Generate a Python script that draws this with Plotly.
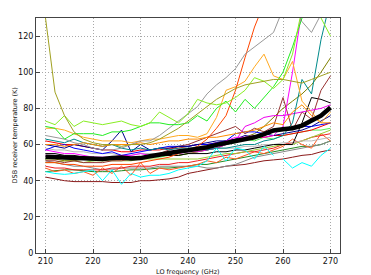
import plotly.graph_objects as go

freq = [210,212,214,216,218,220,222,224,226,228,230,232,234,236,238,240,
        242,244,246,248,250,252,254,256,258,260,262,264,266,268,270]

x_ticks = [210,220,230,240,250,260,270]
y_ticks = [0,20,40,60,80,100,120]

olive1 = [130,89,76,67,63,61,60,60,59,60,60,61,63,66,69,73,77,81,85,88,91,93,94,95,96,96,95,94,96,98,100]
olive2 = [52,52,51,51,52,52,51,52,52,53,53,53,54,54,54,55,56,57,58,60,62,64,66,70,75,80,84,88,93,100,108]
grey1 = [65,64,63,61,60,58,57,57,58,60,62,62,65,69,73,77,81,88,93,97,102,110,114,118,122,135,140,128,122,132,140]
orangered1 = [50,50,49,49,48,48,48,49,49,49,50,51,52,53,55,57,59,63,69,76,90,108,125,138,140,140,140,140,140,140,140]
orange1 = [69,69,68,66,64,63,62,62,62,61,62,63,63,64,65,65,64,66,75,90,92,95,103,110,98,96,106,84,78,72,78]
chartreuse = [73,71,76,70,73,72,71,72,73,71,70,72,78,75,72,77,85,83,82,83,86,90,97,95,91,96,110,135,140,130,120]
green = [70,69,63,66,66,66,65,67,67,68,70,72,72,71,71,72,76,73,80,84,78,85,80,86,92,100,114,130,140,140,140]
teal = [63,62,61,63,61,60,59,60,58,57,58,57,58,57,58,58,58,57,58,58,59,60,60,62,63,65,72,96,88,118,140]
magenta1 = [57,56,55,55,54,53,53,53,54,54,55,54,55,56,57,57,58,58,59,62,64,64,65,64,65,70,100,135,140,140,140]
magenta2 = [54,54,53,53,53,52,52,52,53,53,53,54,54,55,55,56,56,57,58,60,62,70,72,75,76,76,77,78,79,80,82]
navy = [60,59,58,60,59,58,57,62,68,56,60,57,58,58,59,59,60,61,62,62,63,65,64,66,65,66,67,68,70,73,76]
blue = [57,59,60,58,57,56,55,56,54,55,56,57,58,59,59,59,60,60,61,62,66,67,67,66,67,68,69,70,70,71,72]
maroon = [51,51,50,51,50,50,50,51,51,52,53,54,55,57,59,60,62,64,66,68,70,66,69,67,70,86,68,78,74,90,98]
red1 = [62,61,60,60,59,58,57,57,56,56,57,57,57,58,58,59,60,60,61,62,63,63,64,64,65,65,66,67,68,70,72]
red2 = [48,47,47,46,46,46,46,47,47,48,48,48,49,49,50,50,51,52,53,54,55,56,56,57,58,60,61,62,64,65,66]
orangered2 = [47,45,46,44,45,43,47,44,48,43,50,44,47,46,47,48,49,51,50,53,52,54,56,55,57,59,63,60,58,66,62]
darkgreen = [45,45.5,46,46,45.5,45,45,45,45.5,46,46,46.5,47,47,47.5,48,49,49,50,51,52,53,54,55,56,57,58,59,59,60,62]
yellowgreen = [50,50,51,51,50,51,51,51,51,51,52,52,52,52,52,52,52,53,54,55,55,56,57,58,59,60,60,62,64,66,68]
lightgreen = [52,53,52,52,52,51,52,52,52,52,53,53,53,54,54,55,56,57,58,60,61,63,62,64,63,65,66,67,68,68,69]
grey2 = [51,50,49,48,48,47,46,46,47,47,47,47,48,48,48,48,48,47,47,48,49,51,53,54,55,56,57,58,59,60,62]
lightgrey = [58,57,57,56,56,55,55,55,54,54,55,55,55,56,56,56,57,57,58,58,58,59,59,60,60,61,61,62,62,63,64]
blackthin = [55,55,54,54,53,53,52,52,53,52,53,53,54,54,54,55,55,55,56,56,57,57,58,59,60,60,60,72,86,85,83]
darkorange = [60,60,59,60,61,60,59,60,60,60,61,60,61,62,62,63,63,64,64,65,66,67,68,70,72,71,78,82,76,72,72]
brown = [42,41,40,39.5,39.5,39.5,39.5,39,39,39,40,40,40.5,41,42,44,45,46,47,48,48.5,49,50,51,51.5,52,53,54,54.5,56,57]
cyan1 = [45,44,43.5,44,45,46,40,46,38,44,42,43,43,44,46,47,48,51,58,51,58,57,52,59,54,None,None,None,None,None,None]
cyan2 = [None]*25 + [52,47,50,48,54,58]
mean_temp = [53.3,53,52.8,53,52.5,52.2,52,52.5,52.8,52.3,52.5,53.5,54.5,55.5,56.2,56.8,57.5,58.5,59.8,60.8,61.5,62.8,64,65.8,67.8,68.5,69,70.5,73,76,80.5]

series = [
    (brown, '#8b1a1a'), (darkgreen, '#228b22'), (grey2, '#888888'),
    (orangered2, '#ff5a1f'), (red2, '#ee2020'), (yellowgreen, '#9acd32'),
    (lightgreen, '#55ee55'), (lightgrey, '#bbbbbb'), (olive2, '#808000'),
    (blackthin, '#000000'), (maroon, '#993333'), (magenta2, '#ee00ee'),
    (red1, '#ff0000'), (blue, '#0000ff'), (navy, '#00008b'),
    (magenta1, '#ff00ff'), (teal, '#008b8b'), (darkorange, '#ff8c00'),
    (orange1, '#ffaa22'), (orangered1, '#ff4500'), (grey1, '#999999'),
    (green, '#22ee22'), (chartreuse, '#88ee22'), (olive1, '#a0a020'),
    (cyan1, '#00ffff'), (cyan2, '#00ffff'),
]

fig = go.Figure()
for vals, col in series:
    fig.add_trace(go.Scatter(x=freq, y=vals, mode='lines',
                             line=dict(color=col, width=1), connectgaps=False,
                             hoverinfo='skip'))
fig.add_trace(go.Scatter(x=freq, y=mean_temp, mode='lines',
                         line=dict(color='#000000', width=4.5)))

axis_common = dict(showgrid=True, gridcolor='#a8a8a8', griddash='1px,2px', gridwidth=1,
                   showline=True, mirror=True, linecolor='#444444', linewidth=1,
                   ticks='inside', ticklen=4, tickcolor='#444444', zeroline=False,
                   tickfont=dict(family='DejaVu Sans', size=8, color='#111111'))

fig.update_layout(
    width=371, height=275,
    margin=dict(l=28, r=39, t=10, b=30),
    plot_bgcolor='white', paper_bgcolor='white',
    showlegend=False,
    xaxis=dict(range=[208, 272], tickvals=x_ticks, **axis_common),
    yaxis=dict(range=[0, 130], tickvals=y_ticks, **axis_common),
    annotations=[
        dict(text='LO frequency (GHz)', x=0.5, y=0, xref='paper', yref='paper',
             xanchor='center', yanchor='top', yshift=-13, showarrow=False,
             font=dict(family='DejaVu Sans', size=6.5, color='#111111')),
        dict(text='DSB receiver temperature (K)', x=0, y=0.5, xref='paper', yref='paper',
             xanchor='center', yanchor='middle', xshift=-22, textangle=-90, showarrow=False,
             font=dict(family='DejaVu Sans', size=6.5, color='#111111')),
    ],
)

fig.write_html("out.html")
